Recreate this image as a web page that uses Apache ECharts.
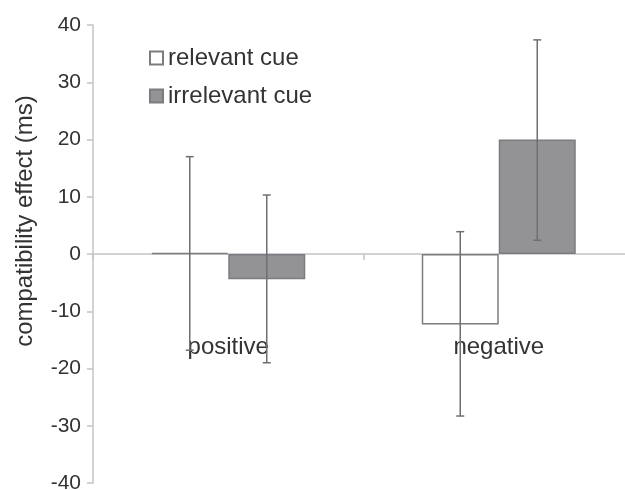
<!DOCTYPE html>
<html>
<head>
<meta charset="utf-8">
<script src="https://cdn.jsdelivr.net/npm/echarts@6/dist/echarts.min.js"></script>
<style>
html,body{margin:0;padding:0;background:#fff;}
#chart{width:625px;height:490px;}
</style>
</head>
<body>
<div id="chart"></div>
<script>
const categories = ['positive', 'negative'];
const seriesNames = ['relevant cue', 'irrelevant cue'];
const relevantValues = [0.2, -12.3];
const irrelevantValues = [-4.4, 20.0];
const relevantErrLow = [-16.8, -28.3];
const relevantErrHigh = [17.0, 3.9];
const irrelevantErrLow = [-19.0, 2.4];
const irrelevantErrHigh = [10.3, 37.4];
const yTicks = [-40, -30, -20, -10, 0, 10, 20, 30, 40];

const FONT = '"Liberation Sans", Arial, sans-serif';
const BAR_W = 77;

function errData(lows, highs) {
  return categories.map((c, i) => [i, lows[i], highs[i]]);
}

function makeErr(name, lows, highs, side) {
  return {
    name: name + ' err',
    type: 'custom',
    z: 10,
    silent: true,
    data: errData(lows, highs),
    encode: { x: 0, y: [1, 2] },
    renderItem: function (params, api) {
      const i = api.value(0);
      const lo = api.coord([i, api.value(1)]);
      const hi = api.coord([i, api.value(2)]);
      const x = lo[0] + side * BAR_W / 2;
      const cap = 4;
      const style = { stroke: '#6f6f72', lineWidth: 1.5 };
      return {
        type: 'group',
        children: [
          { type: 'line', shape: { x1: x, y1: lo[1], x2: x, y2: hi[1] }, style: style },
          { type: 'line', shape: { x1: x - cap, y1: lo[1], x2: x + cap, y2: lo[1] }, style: style },
          { type: 'line', shape: { x1: x - cap, y1: hi[1], x2: x + cap, y2: hi[1] }, style: style }
        ]
      };
    }
  };
}

const chart = echarts.init(document.getElementById('chart'));
chart.setOption({
  animation: false,
  backgroundColor: '#ffffff',
  grid: { left: 93, right: -9, top: 25, bottom: 7, containLabel: false, outerBoundsMode: 'none' },
  legend: {
    data: [
      { name: seriesNames[0], icon: 'rect' },
      { name: seriesNames[1], icon: 'rect' }
    ],
    orient: 'vertical',
    left: 149,
    top: 46,
    padding: 0,
    itemWidth: 13,
    itemHeight: 13,
    itemGap: 14,
    textStyle: { fontFamily: FONT, fontSize: 24, color: '#333' }
  },
  xAxis: {
    type: 'category',
    data: categories,
    axisLine: { onZero: true, lineStyle: { color: '#c4c4c6', width: 1.5 } },
    axisTick: { show: true, length: 6, lineStyle: { color: '#c4c4c6', width: 1.5 } },
    axisLabel: { margin: -148, fontFamily: FONT, fontSize: 24, color: '#333' },
    splitLine: { show: false }
  },
  yAxis: {
    type: 'value',
    min: yTicks[0],
    max: yTicks[yTicks.length - 1],
    interval: 10,
    name: 'compatibility effect (ms)',
    nameLocation: 'middle',
    nameRotate: 90,
    nameGap: 56,
    nameTextStyle: { fontFamily: FONT, fontSize: 24, color: '#333', padding: [0, 0, 0, 66] },
    axisLine: { show: true, lineStyle: { color: '#c4c4c6', width: 1.5 } },
    axisTick: { show: true, length: 6, lineStyle: { color: '#c4c4c6', width: 1.5 } },
    axisLabel: { margin: 12, fontFamily: FONT, fontSize: 21, color: '#333' },
    splitLine: { show: false }
  },
  series: [
    {
      name: seriesNames[0],
      type: 'bar',
      data: relevantValues,
      barWidth: BAR_W,
      barGap: '0%',
      itemStyle: { color: '#ffffff', borderColor: '#7c7c80', borderWidth: 1.5 }
    },
    {
      name: seriesNames[1],
      type: 'bar',
      data: irrelevantValues,
      barWidth: BAR_W,
      barGap: '0%',
      itemStyle: { color: '#939396', borderColor: '#7c7c80', borderWidth: 1.5 }
    },
    makeErr(seriesNames[0], relevantErrLow, relevantErrHigh, -1),
    makeErr(seriesNames[1], irrelevantErrLow, irrelevantErrHigh, 1)
  ]
});
</script>
</body>
</html>
